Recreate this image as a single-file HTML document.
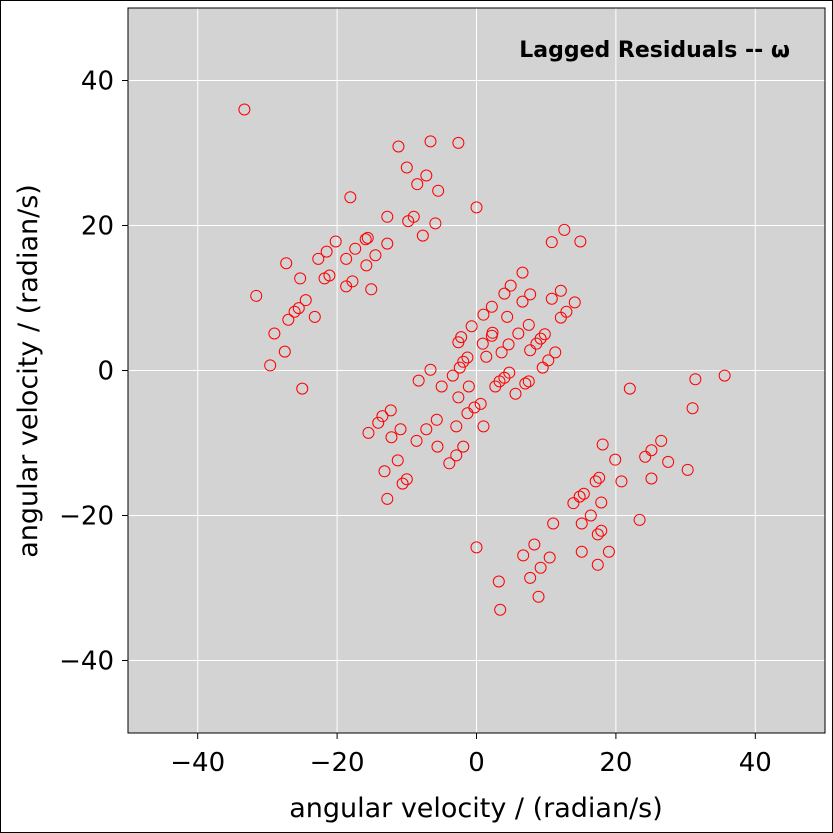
<!DOCTYPE html>
<html><head><meta charset="utf-8"><style>
html,body{margin:0;padding:0;background:#fff}
svg{display:block;font-family:"DejaVu Sans","Liberation Sans",sans-serif}
</style></head><body>
<svg id="chart" width="833" height="833">
<rect x="0.5" y="0.5" width="832" height="832" fill="#fff" stroke="#000"/>
<rect x="128" y="8" width="697" height="725" fill="#d3d3d3"/>
<g id="grid"></g>
<g id="pts"></g>
<rect x="128" y="8" width="697" height="725" fill="none" stroke="#000"/>
<g id="ticks"></g>
<text x="790" y="57" text-anchor="end" font-size="22" font-weight="bold">Lagged Residuals -- ω</text>
<text x="476" y="817" text-anchor="middle" font-size="27">angular velocity / (radian/s)</text>
<text transform="translate(37,371) rotate(-90)" text-anchor="middle" font-size="27">angular velocity / (radian/s)</text>
</svg>
<script>
const xTicks=[-40,-20,0,20,40];
const yTicks=[-40,-20,0,20,40];
const xs=[-33.3,-31.6,-29.0,-29.6,-27.5,-27.3,-27.0,-26.1,-25.5,-25.3,-24.5,-25.0,-23.2,-22.7,-21.5,-21.8,-21.1,-20.2,-18.7,-18.1,-17.8,-17.4,-18.7,-15.9,-15.6,-15.8,-15.1,-14.5,-12.8,-12.8,-11.2,-10.0,-9.8,-9.0,-8.5,-7.7,-7.2,-6.6,-5.9,-5.5,-2.6,0,
-8.3,-6.6,-5.0,-3.4,-2.6,-2.4,-1.9,-1.3,-2.6,-2.2,-1.1,-0.7,0.9,1.4,1.0,2.2,2.3,2.2,3.6,4.0,4.9,4.6,4.4,5.6,6.0,6.6,6.6,7.5,7.7,7.7,8.6,9.2,9.8,9.5,10.3,10.8,11.3,12.1,12.1,12.9,12.6,10.8,14.1,14.9,
-15.5,-14.1,-13.5,-12.3,-12.2,-10.9,-11.3,-13.2,-12.8,-10.6,-10.0,-8.6,-7.2,-5.7,-5.6,-3.9,-2.9,-2.9,-1.9,-1.3,-0.3,0.6,1.0,2.7,3.3,4.0,4.7,7.0,7.5,0,3.2,3.4,6.7,7.7,8.3,8.9,9.2,10.5,11.0,
13.9,14.8,15.4,15.1,15.1,16.4,17.1,17.4,17.9,17.6,17.4,17.9,18.1,19.0,19.9,20.8,22.0,23.4,24.2,25.1,25.1,26.5,27.5,30.3,31.4,31.0,35.6];
const ys=[36.0,10.3,5.1,0.7,2.6,14.8,7.0,8.1,8.6,12.7,9.7,-2.5,7.4,15.4,16.4,12.7,13.1,17.8,11.6,23.9,12.3,16.8,15.4,18.1,18.3,14.5,11.2,15.9,17.5,21.2,30.9,28.0,20.6,21.2,25.7,18.6,26.9,31.6,20.3,24.8,31.4,22.5,
-1.4,0.1,-2.2,-0.7,-3.7,0.4,1.2,1.8,3.9,4.6,-2.2,6.1,3.7,1.9,7.7,4.8,5.2,8.8,2.5,10.6,11.7,3.6,7.4,-3.2,5.1,9.5,13.5,6.3,10.5,2.8,3.7,4.4,5.0,0.4,1.4,9.9,2.5,7.3,11.0,8.1,19.4,17.7,9.4,17.8,
-8.6,-7.2,-6.3,-5.5,-9.2,-8.1,-12.4,-13.9,-17.7,-15.6,-15.0,-9.7,-8.1,-6.8,-10.5,-12.8,-11.7,-7.7,-10.5,-5.9,-5.1,-4.6,-7.7,-2.2,-1.5,-1.0,-0.3,-1.8,-1.5,-24.4,-29.1,-33.0,-25.5,-28.6,-24.0,-31.2,-27.2,-25.8,-21.1,
-18.3,-17.4,-17.0,-21.1,-25.0,-20.0,-15.3,-22.6,-22.1,-14.8,-26.8,-18.2,-10.2,-25.0,-12.3,-15.3,-2.5,-20.6,-11.9,-11.0,-14.9,-9.7,-12.6,-13.7,-1.2,-5.2,-0.7];
const NS="http://www.w3.org/2000/svg";
const L=128,R=825,T=8,B=733;
const sx=v=>L+(v+50)/100*(R-L);
const sy=v=>B-(v+50)/100*(B-T);
const grid=document.getElementById('grid'),ticks=document.getElementById('ticks'),pts=document.getElementById('pts');
function mk(tag,attrs,parent){const e=document.createElementNS(NS,tag);for(const k in attrs)e.setAttribute(k,attrs[k]);parent.appendChild(e);return e;}
xTicks.forEach(t=>{
  const g=mk('line',{x1:sx(t),x2:sx(t),y1:T,y2:B,stroke:'#fff','stroke-width':1},grid);
  
  
  const tk=mk('line',{x1:sx(t),x2:sx(t),y1:B,y2:B+6,stroke:'#000'},ticks);
  
  
  const tx=mk('text',{x:sx(t),y:B+38,'text-anchor':'middle','font-size':26},ticks);
  tx.textContent=(t<0?'\u2212'+(-t):String(t));
  
  
});
yTicks.forEach(t=>{
  const g=mk('line',{x1:L,x2:R,y1:sy(t),y2:sy(t),stroke:'#fff','stroke-width':1},grid);
  
  
  const tk=mk('line',{x1:L-6,x2:L,y1:sy(t),y2:sy(t),stroke:'#000'},ticks);
  
  
  const tx=mk('text',{x:L-14,y:sy(t)+9,'text-anchor':'end','font-size':26},ticks);
  tx.textContent=(t<0?'\u2212'+(-t):String(t));
  
  
});
xs.forEach((v,i)=>{
  const c=mk('circle',{cx:sx(v),cy:sy(ys[i]),r:5.5,fill:'none',stroke:'#f00','stroke-width':1},pts);
  
  
});
</script>
</body></html>
